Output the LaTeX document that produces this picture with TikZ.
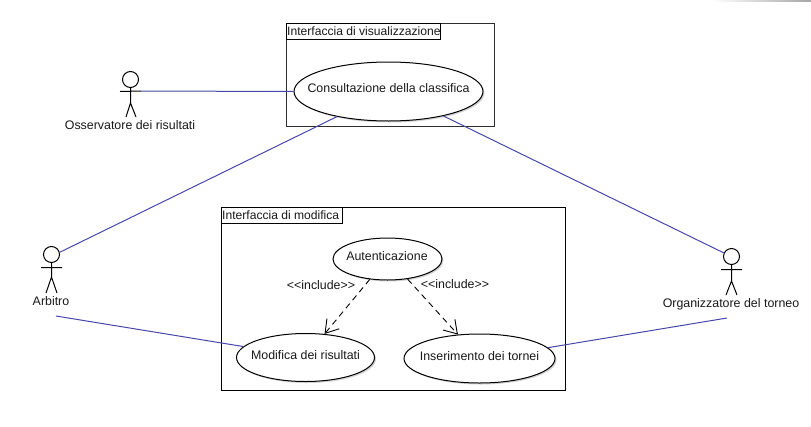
\documentclass[tikz,border=0pt]{standalone}
\usepackage{fontspec}
\setmainfont{Liberation Sans}
\usetikzlibrary{shapes.geometric,shadows,arrows.meta}
\definecolor{assoc}{RGB}{72,72,172}
\definecolor{framecol}{RGB}{45,45,45}
\definecolor{txt}{RGB}{25,25,25}
\tikzset{
  x=1pt,y=-1pt,
  lbl/.style={font=\fontsize{12.4}{14}\selectfont,text=txt,inner sep=0pt},
  tablbl/.style={font=\fontsize{12.1}{14}\selectfont,text=txt,inner sep=0pt,anchor=west},
  usecase/.style={ellipse,draw=black,line width=1pt,fill=white,inner sep=0pt,
    drop shadow={shadow xshift=1.5pt,shadow yshift=-1.5pt,opacity=.35}},
  sysframe/.style={draw=framecol,line width=1pt,fill=white},
  tabbox/.style={draw=black,line width=1pt,fill=white},
  assocline/.style={draw=assoc,line width=1pt},
  incl/.style={draw=black,line width=0.9pt,dash pattern=on 6pt off 4.5pt,-{Straight Barb[length=12.5pt,width=16pt,line width=0.9pt]}},
  head/.style={circle,draw=black,line width=1pt,fill=white,minimum size=16pt,inner sep=0pt},
  limb/.style={draw=black,line width=1pt}
}
\begin{document}
\begin{tikzpicture}
\useasboundingbox (0,0) rectangle (811,426);
\fill[white] (0,0) rectangle (811,426);
\shade[left color=white,right color=black!35,draw=none] (712,0) rectangle (811,1);

% system frames
\path[sysframe] (286.5,23.5) rectangle (494.5,126.5);
\path[tabbox] (286.5,23.5) rectangle (440.5,39.5);
\node[tablbl] (tabvis) at (287,31.5) {Interfaccia di visualizzazione};
\path[sysframe,draw=black] (221.5,207.5) rectangle (565.5,390.5);
\path[tabbox] (221.5,207.5) rectangle (342.5,223.5);
\node[tablbl] (tabmod) at (222,215.5) {Interfaccia di modifica};

% actor heads and free ends of the associations
\node[head] (hobs) at (130.5,79.5) {};
\node[head] (harb) at (51.5,254.5) {};
\node[head] (horg) at (731.5,256.5) {};
\coordinate (armobs) at (141,91);
\coordinate (freearb) at (56,316);
\coordinate (freeorg) at (727,318);

% use cases
\node[usecase,minimum width=189pt,minimum height=59pt] (cons) at (388.5,91.5) {};
\node[lbl] (conslbl) at (388.5,88.5) {Consultazione della classifica};
\node[usecase,minimum width=109pt,minimum height=42pt] (auth) at (387.5,259) {};
\node[lbl] (authlbl) at (387,256) {Autenticazione};
\node[usecase,minimum width=138pt,minimum height=48pt] (modi) at (305.5,357.5) {};
\node[lbl] (modilbl) at (305.5,355) {Modifica dei risultati};
\node[usecase,minimum width=151pt,minimum height=49pt] (ins) at (479.5,358.5) {};
\node[lbl] (inslbl) at (479.5,356.5) {Inserimento dei tornei};

% connectors
\draw[assocline] (armobs) -- (cons.180.5);
\draw[assocline] (cons.206.6) -- (harb.15);
\draw[assocline] (cons.-24.6) -- (horg.155);
\draw[assocline] (freearb) -- (modi.170.4);
\draw[assocline] (ins.9.8) -- (freeorg);
\draw[incl] (auth.-131.4) -- (modi.51.8);
\draw[incl] (auth.-45.7) -- (ins.132.5);

% include labels
\node[lbl] (inc1) at (321,285) {<{}<include>{}>};
\node[lbl] (inc2) at (455,284) {<{}<include>{}>};

% actors
\draw[limb] (hobs.south) -- (130.5,103) -- (126,117) (130.5,103) -- (136,117) (120,91.5) -- (armobs);
\node[lbl] (obs) at (130,125.5) {Osservatore dei risultati};
\draw[limb] (harb.south) -- (51.5,277) -- (46,293) (51.5,277) -- (57,293) (41,267.5) -- (62,267.5);
\node[lbl] (arb) at (51,301.5) {Arbitro};
\draw[limb] (horg.south) -- (731.5,281) -- (726,295) (731.5,281) -- (737,295) (721,269.5) -- (742,269.5);
\node[lbl] (org) at (731,304) {Organizzatore del torneo};
\end{tikzpicture}
\end{document}
